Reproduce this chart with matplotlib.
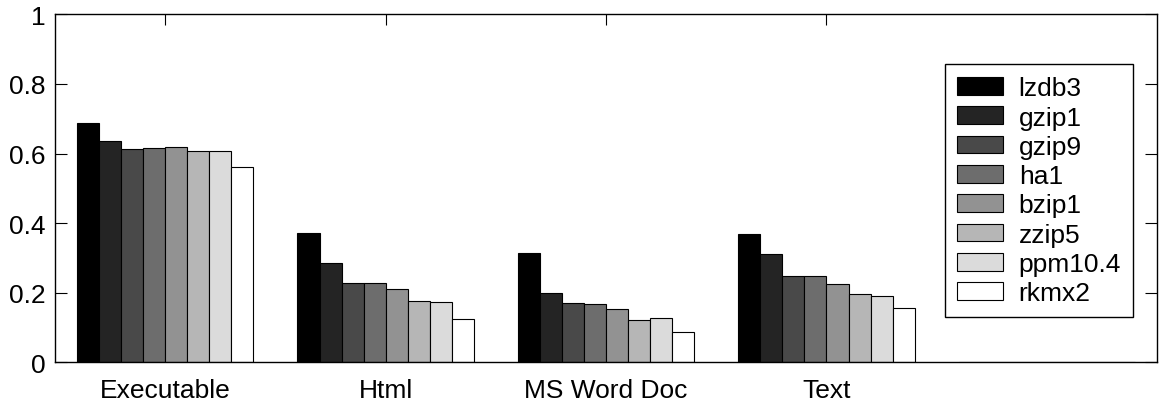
"""Grouped bar chart of compression ratios per file type."""

import matplotlib

matplotlib.use("Agg")
import matplotlib.pyplot as plt
import numpy as np

# file types (the fifth group is empty in the original figure)
categories = ["Executable", "Html", "MS Word Doc", "Text", ""]
methods = ["lzdb3", "gzip1", "gzip9", "ha1", "bzip1", "zzip5", "ppm10.4", "rkmx2"]

lzdb3 = [0.688, 0.372, 0.314, 0.370, 0.0]
gzip1 = [0.636, 0.285, 0.199, 0.310, 0.0]
gzip9 = [0.614, 0.228, 0.171, 0.249, 0.0]
ha1 = [0.617, 0.228, 0.167, 0.249, 0.0]
bzip1 = [0.620, 0.210, 0.152, 0.225, 0.0]
zzip5 = [0.606, 0.177, 0.123, 0.196, 0.0]
ppm104 = [0.606, 0.174, 0.128, 0.190, 0.0]
rkmx2 = [0.562, 0.126, 0.086, 0.157, 0.0]

series = [lzdb3, gzip1, gzip9, ha1, bzip1, zzip5, ppm104, rkmx2]
y_ticks = [0, 0.2, 0.4, 0.6, 0.8, 1.0]
y_tick_labels = ["0", "0.2", "0.4", "0.6", "0.8", "1"]


def main() -> None:
    plt.rcParams["font.family"] = ["Liberation Sans", "DejaVu Sans"]
    fig = plt.figure(figsize=(11.7, 4.02), dpi=100)
    ax = fig.add_axes([0.047, 0.096, 0.942, 0.866])

    n_series = len(series)
    group_pos = np.arange(1, len(categories) + 1)
    width = 0.8 / n_series
    grays = np.linspace(0, 1, n_series)

    for i, (name, values) in enumerate(zip(methods, series)):
        offset = (i - (n_series - 1) / 2) * width
        ax.bar(
            group_pos + offset,
            values,
            width=width,
            color=str(grays[i]),
            edgecolor="black",
            linewidth=0.8,
            label=name,
            zorder=2,
        )

    ax.set_xlim(0.5, len(categories) + 0.5)
    ax.set_ylim(0, 1)
    ax.set_xticks(group_pos[:4])
    ax.set_xticklabels(categories[:4], fontsize=19)
    ax.set_yticks(y_ticks)
    ax.set_yticklabels(y_tick_labels, fontsize=19)

    ax.tick_params(axis="y", direction="in", length=8.5, width=0.8,
                   left=True, right=True, pad=6.5)
    ax.tick_params(axis="x", direction="in", length=8, width=0.8,
                   bottom=True, top=True, pad=11)
    for spine in ax.spines.values():
        spine.set_linewidth(1.0)
        spine.set_zorder(3)

    legend = ax.legend(
        loc="upper right",
        bbox_to_anchor=(0.978, 0.856),
        fontsize=19,
        frameon=True,
        fancybox=False,
        edgecolor="black",
        borderpad=0.45,
        labelspacing=0.2,
        handlelength=1.75,
        handleheight=0.66,
        handletextpad=0.6,
        borderaxespad=0,
    )
    legend.get_frame().set_linewidth(1.0)
    legend.get_frame().set_alpha(1)

    fig.savefig("out.png", dpi=100)
    plt.close(fig)


if __name__ == "__main__":
    main()
